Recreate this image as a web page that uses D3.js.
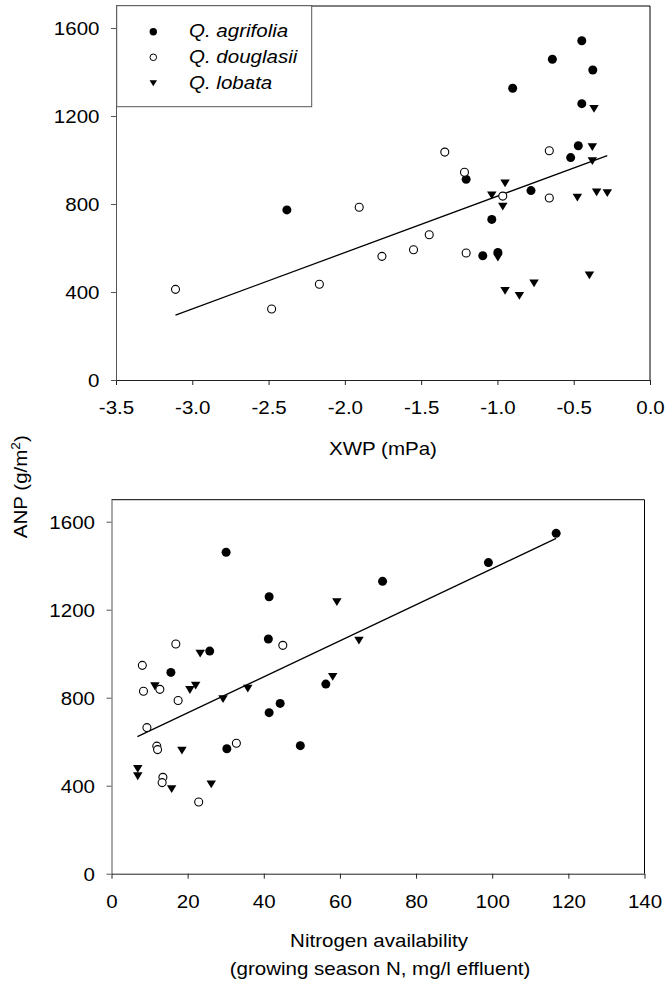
<!DOCTYPE html>
<html>
<head>
<meta charset="utf-8">
<script src="https://cdn.jsdelivr.net/npm/d3@7"></script>
<style>
  html, body { margin: 0; padding: 0; background: #fff; }
  svg { display: block; }
  text { font-family: "Liberation Sans", Arial, sans-serif; fill: #000; }
</style>
</head>
<body>
<svg id="chart" width="670" height="985"></svg>
<script>
// ---------- data ----------
const series = ["Q. agrifolia", "Q. douglasii", "Q. lobata"];

// Top panel: xylem water potential (XWP, mPa) vs ANP (g/m2)
const xwpAgrifolia = [-2.38, -1.205, -1.096, -1.037, -0.997, -0.90, -0.78, -0.64, -0.52, -0.47, -0.447, -0.447, -0.375];
const anpAgrifoliaTop = [773, 912, 565, 730, 580, 1326, 861, 1458, 1011, 1065, 1542, 1256, 1409];
const xwpDouglasii = [-3.11, -2.48, -2.167, -1.906, -1.757, -1.55, -1.447, -1.345, -1.216, -1.205, -0.965, -0.66, -0.66];
const anpDouglasiiTop = [412, 323, 435, 785, 562, 592, 660, 1036, 944, 577, 836, 1042, 827];
const xwpLobata = [-1.037, -0.997, -0.965, -0.95, -0.95, -0.856, -0.76, -0.476, -0.397, -0.378, -0.378, -0.367, -0.35, -0.28];
const anpLobataTop = [839, 556, 788, 894, 405, 382, 439, 829, 476, 1059, 995, 1232, 853, 849];
const fitTopX = [-3.11, -0.28];
const fitTopY = [295, 1020];

// Bottom panel: nitrogen availability vs ANP (g/m2)
const nAgrifolia = [30.1, 41.4, 41.2, 25.8, 15.6, 56.3, 44.3, 41.4, 49.6, 30.3, 71.2, 99.0, 116.8];
const anpAgrifoliaBot = [1461, 1259, 1067, 1012, 915, 862, 774, 732, 582, 568, 1329, 1414, 1547];
const nDouglasii = [8.1, 8.4, 16.9, 12.7, 17.5, 9.3, 11.9, 12.1, 13.5, 13.3, 22.9, 32.8, 45.0];
const anpDouglasiiBot = [947, 829, 1044, 838, 787, 664, 580, 564, 438, 414, 326, 593, 1038];
const nLobata = [6.9, 6.9, 11.4, 15.8, 18.5, 20.6, 22.1, 23.3, 26.2, 29.3, 35.8, 59.2, 58.1, 65.0];
const anpLobataBot = [476, 443, 852, 384, 559, 835, 855, 1000, 406, 794, 841, 1234, 895, 1059];
const fitBotX = [6.8, 116.8];
const fitBotY = [623, 1524];

// ticks
const xTicksTop = [-3.5, -3.0, -2.5, -2.0, -1.5, -1.0, -0.5, 0.0];
const xTicksBot = [0, 20, 40, 60, 80, 100, 120, 140];
const yTicks = [0, 400, 800, 1200, 1600];
const xTitleTop = "XWP (mPa)";
const xTitleBot1 = "Nitrogen availability";
const xTitleBot2 = "(growing season N, mg/l effluent)";

// ---------- drawing ----------
const SX = 1.14;       // horizontal stretch of the reference's font
const FS = 18;         // font size
const svg = d3.select("#chart");

const downTri = {
  draw(ctx, size) {
    const w = Math.sqrt(size);
    const h = w * 0.82;
    ctx.moveTo(-w / 2, -h / 2);
    ctx.lineTo(w / 2, -h / 2);
    ctx.lineTo(0, h / 2);
    ctx.closePath();
  }
};

function txt(g, x, y, s, anchor, extra) {
  const t = g.append("text")
    .attr("transform", `translate(${x},${y}) scale(${SX},1)`)
    .attr("text-anchor", anchor || "middle")
    .style("font-size", FS + "px")
    .text(s);
  if (extra) extra(t);
  return t;
}

function drawPanel(x, y, xTicks, fmt, pts, fit) {
  const g = svg.append("g");
  const x0 = x.range()[0], x1 = x.range()[1];
  const y0 = y.range()[0], y1 = y.range()[1];

  // frame top/right
  g.append("path")
    .attr("d", `M${x0},${y1}H${x1}V${y0}`)
    .attr("fill", "none").attr("stroke", "#000").attr("stroke-width", 1);

  // bottom axis
  const ax = g.append("g").attr("transform", `translate(0,${y0})`)
    .call(d3.axisBottom(x).tickValues(xTicks).tickFormat(fmt).tickSize(5).tickSizeOuter(0));
  ax.select(".domain").attr("stroke", "#222");
  ax.selectAll(".tick line").attr("stroke", "#222");
  ax.selectAll(".tick text")
    .attr("y", 0).attr("dy", null)
    .attr("transform", `translate(0,34.3) scale(${SX},1)`)
    .style("font-size", FS + "px")
    .attr("font-family", null).attr("fill", "#000");

  // left axis
  const ay = g.append("g").attr("transform", `translate(${x0},0)`)
    .call(d3.axisLeft(y).tickValues(yTicks).tickFormat(d => String(d)).tickSize(5).tickSizeOuter(0));
  ay.select(".domain").attr("stroke", "#555");
  ay.selectAll(".tick line").attr("stroke", "#555");
  ay.selectAll(".tick text")
    .attr("x", 0).attr("dy", null)
    .attr("transform", `translate(-16.5,6.4) scale(${SX},1)`)
    .style("font-size", FS + "px")
    .attr("font-family", null).attr("fill", "#000");

  // regression line
  g.append("line")
    .attr("x1", x(fit[0][0])).attr("y1", y(fit[1][0]))
    .attr("x2", x(fit[0][1])).attr("y2", y(fit[1][1]))
    .attr("stroke", "#000").attr("stroke-width", 1.3);

  // points: agrifolia (filled), lobata (triangle), douglasii (open)
  const agr = pts[0][0].map((v, i) => [v, pts[0][1][i]]);
  const dou = pts[1][0].map((v, i) => [v, pts[1][1][i]]);
  const lob = pts[2][0].map((v, i) => [v, pts[2][1][i]]);

  g.append("g").selectAll("circle").data(agr).join("circle")
    .attr("cx", d => x(d[0])).attr("cy", d => y(d[1])).attr("r", 4.5)
    .attr("fill", "#000");
  g.append("g").selectAll("path").data(lob).join("path")
    .attr("transform", d => `translate(${x(d[0])},${y(d[1])})`)
    .attr("d", d3.symbol(downTri, 90)())
    .attr("fill", "#000");
  g.append("g").selectAll("circle").data(dou).join("circle")
    .attr("cx", d => x(d[0])).attr("cy", d => y(d[1])).attr("r", 4.0)
    .attr("fill", "#fff").attr("stroke", "#000").attr("stroke-width", 1.1);
  return g;
}

// Top panel (ASCII hyphen for negative tick labels, as in the reference)
const xTop = d3.scaleLinear().domain([-3.5, 0]).range([116, 650]);
const yTop = d3.scaleLinear().domain([0, 1700]).range([380, 6]);
drawPanel(xTop, yTop, xTicksTop, d => d.toFixed(1),
  [[xwpAgrifolia, anpAgrifoliaTop], [xwpDouglasii, anpDouglasiiTop], [xwpLobata, anpLobataTop]],
  [fitTopX, fitTopY]);

// Bottom panel
const xBot = d3.scaleLinear().domain([0, 140]).range([111.5, 644.5]);
const yBot = d3.scaleLinear().domain([0, 1700]).range([873.7, 499.7]);
drawPanel(xBot, yBot, xTicksBot, d => String(d),
  [[nAgrifolia, anpAgrifoliaBot], [nDouglasii, anpDouglasiiBot], [nLobata, anpLobataBot]],
  [fitBotX, fitBotY]);

// Legend (top panel)
const lg = svg.append("g");
lg.append("rect").attr("x", 116.7).attr("y", 5.7).attr("width", 195).attr("height", 101)
  .attr("fill", "#fff").attr("stroke", "#555").attr("stroke-width", 1);
const legRows = [31.7, 57.3, 83.3];
lg.append("circle").attr("cx", 153.3).attr("cy", legRows[0]).attr("r", 3.7).attr("fill", "#000");
lg.append("circle").attr("cx", 153.3).attr("cy", legRows[1]).attr("r", 3.3)
  .attr("fill", "#fff").attr("stroke", "#000").attr("stroke-width", 1);
lg.append("path").attr("transform", `translate(153.3,${legRows[2]})`)
  .attr("d", d3.symbol(downTri, 56)()).attr("fill", "#000");
series.forEach((s, i) => {
  txt(lg, 189, legRows[i] + 5.6, s, "start", t => t.style("font-style", "italic"));
});

// Axis titles
txt(svg, 383, 455, xTitleTop, "middle");
txt(svg, 379, 946.7, xTitleBot1, "middle");
txt(svg, 380, 975, xTitleBot2, "middle");

const yt = svg.append("text")
  .attr("transform", `translate(26.7,486.7) rotate(-90) scale(${SX},1)`)
  .attr("text-anchor", "middle")
  .style("font-size", FS + "px");
yt.append("tspan").text("ANP (g/m");
yt.append("tspan").text("2").style("font-size", "12px").attr("dy", -7);
yt.append("tspan").text(")").attr("dy", 7);
</script>
</body>
</html>
